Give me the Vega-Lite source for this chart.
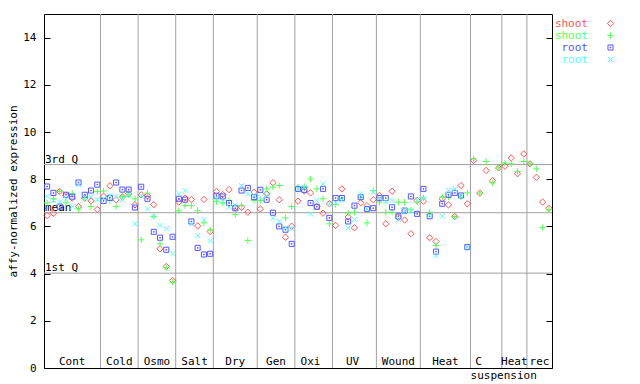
{
  "$schema": "https://vega.github.io/schema/vega-lite/v6.json",
  "width": 508,
  "height": 354,
  "autosize": {"type": "none"},
  "padding": {"left": 44, "top": 14, "right": 88, "bottom": 16},
  "background": "white",
  "config": {
    "view": {"stroke": "black", "strokeWidth": 1},
    "font": "DejaVu Sans Mono",
    "axis": {"labelFont": "DejaVu Sans Mono", "titleFont": "DejaVu Sans Mono", "labelFontSize": 11, "titleFontSize": 11, "titleFontWeight": "normal", "labelColor": "black", "titleColor": "black", "tickColor": "black"}
  },
  "datasets": {
    "pts": [
      {"i":1,"shoot1":6.46,"shoot2":7.0,"root1":7.69,"root2":7.27},
      {"i":2,"shoot1":6.56,"shoot2":7.17,"root1":7.42,"root2":7.1},
      {"i":3,"shoot1":7.48,"shoot2":7.48,"root1":6.84,"root2":7.03},
      {"i":4,"shoot1":7.31,"shoot2":7.0,"root1":7.34,"root2":7.17},
      {"i":5,"shoot1":7.2,"shoot2":7.4,"root1":7.26,"root2":6.84},
      {"i":6,"shoot1":6.84,"shoot2":6.74,"root1":7.86,"root2":7.76},
      {"i":7,"shoot1":7.2,"shoot2":7.21,"root1":7.34,"root2":7.21},
      {"i":8,"shoot1":7.08,"shoot2":6.84,"root1":7.52,"root2":7.25},
      {"i":9,"shoot1":6.72,"shoot2":7.48,"root1":7.77,"root2":7.13},
      {"i":10,"shoot1":7.28,"shoot2":7.5,"root1":7.08,"root2":7.17},
      {"i":11,"shoot1":7.72,"shoot2":7.1,"root1":7.21,"root2":7.31},
      {"i":12,"shoot1":7.13,"shoot2":6.84,"root1":7.86,"root2":7.27},
      {"i":13,"shoot1":7.25,"shoot2":7.27,"root1":7.56,"root2":7.13},
      {"i":14,"shoot1":7.38,"shoot2":7.34,"root1":7.56,"root2":7.34},
      {"i":15,"shoot1":6.92,"shoot2":7.17,"root1":6.8,"root2":6.11},
      {"i":16,"shoot1":7.34,"shoot2":5.43,"root1":7.68,"root2":7.3},
      {"i":17,"shoot1":7.3,"shoot2":7.41,"root1":7.17,"root2":6.74},
      {"i":18,"shoot1":6.92,"shoot2":6.42,"root1":5.77,"root2":6.42},
      {"i":19,"shoot1":5.05,"shoot2":5.26,"root1":5.52,"root2":6.04},
      {"i":20,"shoot1":4.3,"shoot2":4.25,"root1":5.01,"root2":5.91},
      {"i":21,"shoot1":3.71,"shoot2":3.64,"root1":5.56,"root2":4.84},
      {"i":22,"shoot1":7.03,"shoot2":6.66,"root1":7.17,"root2":7.38},
      {"i":23,"shoot1":7.2,"shoot2":6.88,"root1":7.13,"root2":7.52},
      {"i":24,"shoot1":7.14,"shoot2":6.87,"root1":6.21,"root2":6.09},
      {"i":25,"shoot1":6.02,"shoot2":6.66,"root1":5.09,"root2":5.61},
      {"i":26,"shoot1":7.14,"shoot2":6.15,"root1":4.81,"root2":6.29},
      {"i":27,"shoot1":5.78,"shoot2":5.85,"root1":4.84,"root2":5.39},
      {"i":28,"shoot1":7.48,"shoot2":7.05,"root1":7.3,"root2":7.2},
      {"i":29,"shoot1":7.35,"shoot2":7.0,"root1":7.27,"root2":7.05},
      {"i":30,"shoot1":7.56,"shoot2":7.1,"root1":6.99,"root2":6.82},
      {"i":31,"shoot1":6.8,"shoot2":6.5,"root1":6.77,"root2":6.9},
      {"i":32,"shoot1":6.81,"shoot2":6.88,"root1":7.52,"root2":7.73},
      {"i":33,"shoot1":6.6,"shoot2":5.4,"root1":7.63,"root2":7.38},
      {"i":34,"shoot1":7.45,"shoot2":7.1,"root1":7.24,"root2":7.31},
      {"i":35,"shoot1":6.74,"shoot2":7.1,"root1":7.55,"root2":7.24},
      {"i":36,"shoot1":7.38,"shoot2":7.59,"root1":7.13,"root2":7.31},
      {"i":37,"shoot1":7.85,"shoot2":7.66,"root1":6.58,"root2":6.35},
      {"i":38,"shoot1":7.13,"shoot2":7.73,"root1":6.0,"root2":6.21},
      {"i":39,"shoot1":5.54,"shoot2":6.36,"root1":5.86,"root2":5.94},
      {"i":40,"shoot1":6.01,"shoot2":6.84,"root1":5.26,"root2":5.9},
      {"i":41,"shoot1":7.07,"shoot2":7.66,"root1":7.59,"root2":7.59},
      {"i":42,"shoot1":7.5,"shoot2":7.69,"root1":7.55,"root2":7.66},
      {"i":43,"shoot1":7.42,"shoot2":8.01,"root1":6.99,"root2":6.53},
      {"i":44,"shoot1":6.84,"shoot2":7.59,"root1":6.83,"root2":7.1},
      {"i":45,"shoot1":6.56,"shoot2":7.17,"root1":7.59,"root2":7.8},
      {"i":46,"shoot1":6.96,"shoot2":6.11,"root1":6.36,"root2":6.96},
      {"i":47,"shoot1":6.04,"shoot2":6.93,"root1":7.2,"root2":7.0},
      {"i":48,"shoot1":7.59,"shoot2":7.2,"root1":7.2,"root2":7.1},
      {"i":49,"shoot1":6.4,"shoot2":6.56,"root1":6.21,"root2":5.94},
      {"i":50,"shoot1":5.94,"shoot2":6.6,"root1":6.88,"root2":6.29},
      {"i":51,"shoot1":7.0,"shoot2":7.24,"root1":7.24,"root2":7.38},
      {"i":52,"shoot1":6.88,"shoot2":6.15,"root1":6.74,"root2":6.74},
      {"i":53,"shoot1":7.13,"shoot2":7.52,"root1":6.77,"root2":7.45},
      {"i":54,"shoot1":7.31,"shoot2":7.03,"root1":7.2,"root2":7.2},
      {"i":55,"shoot1":6.11,"shoot2":6.6,"root1":7.2,"root2":7.05},
      {"i":56,"shoot1":7.49,"shoot2":6.6,"root1":6.81,"root2":7.1},
      {"i":57,"shoot1":6.39,"shoot2":7.03,"root1":6.43,"root2":6.29},
      {"i":58,"shoot1":6.27,"shoot2":7.02,"root1":6.67,"root2":6.67},
      {"i":59,"shoot1":5.69,"shoot2":6.7,"root1":7.27,"root2":6.67},
      {"i":60,"shoot1":7.1,"shoot2":7.03,"root1":6.53,"root2":7.13},
      {"i":61,"shoot1":7.07,"shoot2":7.2,"root1":7.59,"root2":7.2},
      {"i":62,"shoot1":5.52,"shoot2":6.6,"root1":6.43,"root2":6.46},
      {"i":63,"shoot1":5.36,"shoot2":5.19,"root1":4.93,"root2":4.76},
      {"i":64,"shoot1":7.17,"shoot2":7.24,"root1":6.96,"root2":6.43},
      {"i":65,"shoot1":6.91,"shoot2":7.24,"root1":7.34,"root2":7.52},
      {"i":66,"shoot1":6.42,"shoot2":6.42,"root1":7.42,"root2":7.59},
      {"i":67,"shoot1":7.73,"shoot2":7.24,"root1":7.31,"root2":7.27},
      {"i":68,"shoot1":6.96,"shoot2":7.42,"root1":5.12,"root2":5.12},
      {"i":69,"shoot1":8.79,"shoot2":8.86},
      {"i":70,"shoot1":7.41,"shoot2":7.41},
      {"i":71,"shoot1":8.37,"shoot2":8.75},
      {"i":72,"shoot1":7.94,"shoot2":7.85},
      {"i":73,"shoot1":8.48,"shoot2":8.48},
      {"i":74,"shoot1":8.55,"shoot2":8.69},
      {"i":75,"shoot1":8.9,"shoot2":8.65},
      {"i":76,"shoot1":8.23,"shoot2":8.33},
      {"i":77,"shoot1":9.07,"shoot2":8.75},
      {"i":78,"shoot1":8.65,"shoot2":8.65},
      {"i":79,"shoot1":8.08,"shoot2":8.44},
      {"i":80,"shoot1":7.03,"shoot2":5.95},
      {"i":81,"shoot1":6.77,"shoot2":6.7}
    ],
    "bounds": [{"b":9.5},{"b":15.5},{"b":21.5},{"b":27.5},{"b":34.5},{"b":40.5},{"b":46.5},{"b":53.5},{"b":60.5},{"b":68.5},{"b":73.5},{"b":77.5}],
    "quart": [{"label":"3rd Q","v":8.62},{"label":"mean","v":6.58},{"label":"1st Q","v":4.02}],
    "cats": [
      {"label":"Cont","pos":5,"row":0},
      {"label":"Cold","pos":12.5,"row":0},
      {"label":"Osmo","pos":18.5,"row":0},
      {"label":"Salt","pos":24.5,"row":0},
      {"label":"Dry","pos":31,"row":0},
      {"label":"Gen","pos":37.5,"row":0},
      {"label":"Oxi","pos":43,"row":0},
      {"label":"UV","pos":49.7,"row":0},
      {"label":"Wound","pos":57,"row":0},
      {"label":"Heat","pos":64.5,"row":0},
      {"label":"C","pos":69.8,"row":0},
      {"label":"Heat","pos":75.5,"row":0},
      {"label":"rec","pos":79.5,"row":0},
      {"label":"suspension","pos":73.8,"row":1}
    ]
  },
  "layer": [
    {
      "data": {"name": "bounds"},
      "mark": {"type": "rule", "color": "#a0a0a0", "strokeWidth": 1},
      "encoding": {
        "x": {"field": "b", "type": "quantitative", "scale": {"domain": [0.5, 81.5], "nice": false, "zero": false}, "axis": null}
      }
    },
    {
      "data": {"name": "quart"},
      "mark": {"type": "rule", "color": "#a0a0a0", "strokeWidth": 1},
      "encoding": {
        "y": {"field": "v", "type": "quantitative", "scale": {"domain": [0, 15], "nice": false, "zero": false},
              "axis": {"orient": "right", "values": [0,2,4,6,8,10,12,14], "labels": false, "tickSize": -6, "domain": false, "grid": false, "title": null}}
      }
    },
    {
      "data": {"name": "quart"},
      "mark": {"type": "text", "align": "left", "baseline": "alphabetic", "dx": 1, "dy": -2, "font": "DejaVu Sans Mono", "fontSize": 11, "color": "black"},
      "encoding": {
        "x": {"datum": 0.5, "type": "quantitative", "scale": {"domain": [0.5, 81.5], "nice": false, "zero": false}},
        "y": {"field": "v", "type": "quantitative", "scale": {"domain": [0, 15], "nice": false, "zero": false}, "axis": null},
        "text": {"field": "label"}
      }
    },
    {
      "data": {"name": "cats"},
      "transform": [{"filter": "datum.row == 0"}],
      "mark": {"type": "text", "align": "center", "baseline": "alphabetic", "dy": -3, "font": "DejaVu Sans Mono", "fontSize": 11, "color": "black"},
      "encoding": {
        "x": {"field": "pos", "type": "quantitative", "scale": {"domain": [0.5, 81.5], "nice": false, "zero": false}},
        "y": {"datum": 0, "type": "quantitative", "scale": {"domain": [0, 15], "nice": false, "zero": false}, "axis": null},
        "text": {"field": "label"}
      }
    },
    {
      "data": {"name": "cats"},
      "transform": [{"filter": "datum.row == 1"}],
      "mark": {"type": "text", "align": "center", "baseline": "alphabetic", "dy": 11, "font": "DejaVu Sans Mono", "fontSize": 11, "color": "black"},
      "encoding": {
        "x": {"field": "pos", "type": "quantitative", "scale": {"domain": [0.5, 81.5], "nice": false, "zero": false}},
        "y": {"datum": 0, "type": "quantitative", "scale": {"domain": [0, 15], "nice": false, "zero": false}, "axis": null},
        "text": {"field": "label"}
      }
    },
    {
      "data": {"name": "pts"},
      "transform": [
        {"fold": ["shoot1", "shoot2", "root1", "root2"], "as": ["s", "v"]},
        {"filter": "isValid(datum.v)"}
      ],
      "mark": {"type": "point", "filled": false, "strokeWidth": 1, "opacity": 1},
      "encoding": {
        "x": {"field": "i", "type": "quantitative", "scale": {"domain": [0.5, 81.5], "nice": false, "zero": false}},
        "y": {"field": "v", "type": "quantitative", "scale": {"domain": [0, 15], "nice": false, "zero": false},
              "axis": {"orient": "left", "values": [0,2,4,6,8,10,12,14], "tickSize": -6, "labelPadding": 14, "domain": false, "grid": false, "title": "affy-normalized expression"}},
        "color": {"field": "s", "type": "nominal",
                  "scale": {"domain": ["shoot1", "shoot2", "root1", "root2"], "range": ["#ff5555", "#55ff55", "#5555ff", "#55ffff"]},
                  "legend": {"title": null, "orient": "none", "legendX": 561, "legendY": 4, "labelExpr": "indexof(datum.label,'shoot')>=0 ? 'shoot' : 'root'", "labelAlign": "right", "labelOffset": -28, "labelFontSize": 11, "labelFont": "DejaVu Sans Mono", "rowPadding": 0, "symbolStrokeWidth": 1, "symbolSize": 40, "labelColor": {"expr": "scale('color', datum.value)"}}},
        "shape": {"field": "s", "type": "nominal",
                  "scale": {"domain": ["shoot1", "shoot2", "root1", "root2"], "range": ["M0,-1L1,0L0,1L-1,0Z", "M-1,0L1,0M0,-1L0,1", "M-0.8,-0.8L0.8,-0.8L0.8,0.8L-0.8,0.8ZM-0.12,-0.12L0.12,-0.12L0.12,0.12L-0.12,0.12Z", "M-0.8,-0.8L0.8,0.8M-0.8,0.8L0.8,-0.8"]},
                  "legend": {"title": null, "orient": "none", "legendX": 561, "legendY": 4, "labelExpr": "indexof(datum.label,'shoot')>=0 ? 'shoot' : 'root'", "labelAlign": "right", "labelOffset": -28, "labelFontSize": 11, "labelFont": "DejaVu Sans Mono", "rowPadding": 0, "symbolStrokeWidth": 1, "symbolSize": 40, "labelColor": {"expr": "scale('color', datum.value)"}}},
        "size": {"value": 40}
      }
    }
  ],
  "resolve": {"axis": {"y": "independent"}}
}
